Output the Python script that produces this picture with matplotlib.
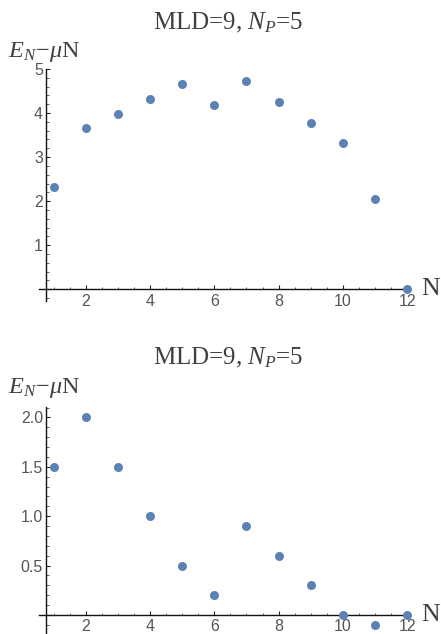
import matplotlib
matplotlib.use("Agg")
import matplotlib.pyplot as plt
from matplotlib.ticker import MultipleLocator

plt.rcParams["mathtext.fontset"] = "custom"
plt.rcParams["mathtext.rm"] = "Liberation Serif"
plt.rcParams["mathtext.it"] = "Liberation Serif:italic"

# particle number N and energies E_N - mu N for the two cases
n_values = [1, 2, 3, 4, 5, 6, 7, 8, 9, 10, 11, 12]
energy_top = [2.32, 3.65, 3.98, 4.33, 4.65, 4.18, 4.73, 4.26, 3.77, 3.32, 2.04, 0.0]
energy_bottom = [1.5, 2.0, 1.5, 1.0, 0.5, 0.2, 0.9, 0.6, 0.3, 0.0, -0.1, 0.0]

title_text = r"MLD=9, $N_P$=5"
ylabel_text = r"$E_N\!-\!\mu\mathrm{N}$"
xlabel_text = "N"

W, H = 441, 634
DPI = 100
fig = plt.figure(figsize=(W / DPI, H / DPI), dpi=DPI)

point_color = "#5E81B5"
tick_color = "#555555"
text_color = "#404040"

x_px1 = 53.5      # pixel column of N=1
x_scale = 32.16   # pixels per unit N
xlim = (0.55, 12.1)


def fmt_int(v, pos):
    return "" if abs(v) < 1e-9 else f"{v:.0f}"


def fmt_one(v, pos):
    return "" if abs(v) < 1e-9 else f"{v:.1f}"


def make_axes(y0_px, y_scale, ylim, ymajor, yminor, yfmt):
    left_px = x_px1 + (xlim[0] - 1) * x_scale
    right_px = x_px1 + (xlim[1] - 1) * x_scale
    top_px = y0_px - ylim[1] * y_scale
    bot_px = y0_px - ylim[0] * y_scale
    ax = fig.add_axes([left_px / W, 1 - bot_px / H,
                       (right_px - left_px) / W, (bot_px - top_px) / H])
    ax.set_xlim(*xlim)
    ax.set_ylim(*ylim)
    ax.patch.set_alpha(0)
    for s in ("top", "right"):
        ax.spines[s].set_visible(False)
    ax.spines["left"].set_position(("data", 0.78))
    ax.spines["bottom"].set_position(("data", 0))
    for s in ("left", "bottom"):
        ax.spines[s].set_linewidth(1.0)
        ax.spines[s].set_color("#111111")
    ax.xaxis.set_major_locator(MultipleLocator(2))
    ax.xaxis.set_minor_locator(MultipleLocator(0.5))
    ax.yaxis.set_major_locator(MultipleLocator(ymajor))
    ax.yaxis.set_minor_locator(MultipleLocator(yminor))
    ax.yaxis.set_major_formatter(yfmt)
    ax.tick_params(axis="both", which="major", direction="in", length=3.2,
                   width=0.8, color="#222222", labelcolor=tick_color,
                   labelsize=11.5)
    ax.tick_params(axis="both", which="minor", direction="in", length=1.8,
                   width=0.6, color="#444444")
    ax.tick_params(axis="x", which="major", pad=3.2)
    ax.tick_params(axis="y", which="major", pad=2.5)
    return ax


ax1 = make_axes(289.3, 44.06, (-0.27, 5.0), 1, 0.2, fmt_int)
ax1.scatter(n_values, energy_top, s=42, color=point_color, zorder=3,
            clip_on=False, linewidths=0)

ax2 = make_axes(615.0, 98.8, (-0.3, 2.11), 0.5, 0.1, fmt_one)
ax2.scatter(n_values, energy_bottom, s=42, color=point_color, zorder=3,
            clip_on=False, linewidths=0)

for ax in (ax1, ax2):
    ax.set_xticks(range(2, 13, 2))
    for lab in ax.get_xticklabels() + ax.get_yticklabels():
        lab.set_fontfamily("Liberation Sans")

serif = "Liberation Serif"
# titles and axis labels of both panels
for title_base, ylab_base, n_base in ((29.3, 57.3, 295.0), (364.0, 393.3, 621.0)):
    fig.text(228 / W, 1 - title_base / H, title_text, ha="center",
             va="baseline", fontsize=18, color=text_color, family=serif)
    fig.text(8 / W, 1 - ylab_base / H, ylabel_text, ha="left",
             va="baseline", fontsize=17.5, color=text_color, family=serif)
    fig.text(421 / W, 1 - n_base / H, xlabel_text, ha="left",
             va="baseline", fontsize=18.5, color=text_color, family=serif)

fig.savefig("out.png", dpi=DPI)
